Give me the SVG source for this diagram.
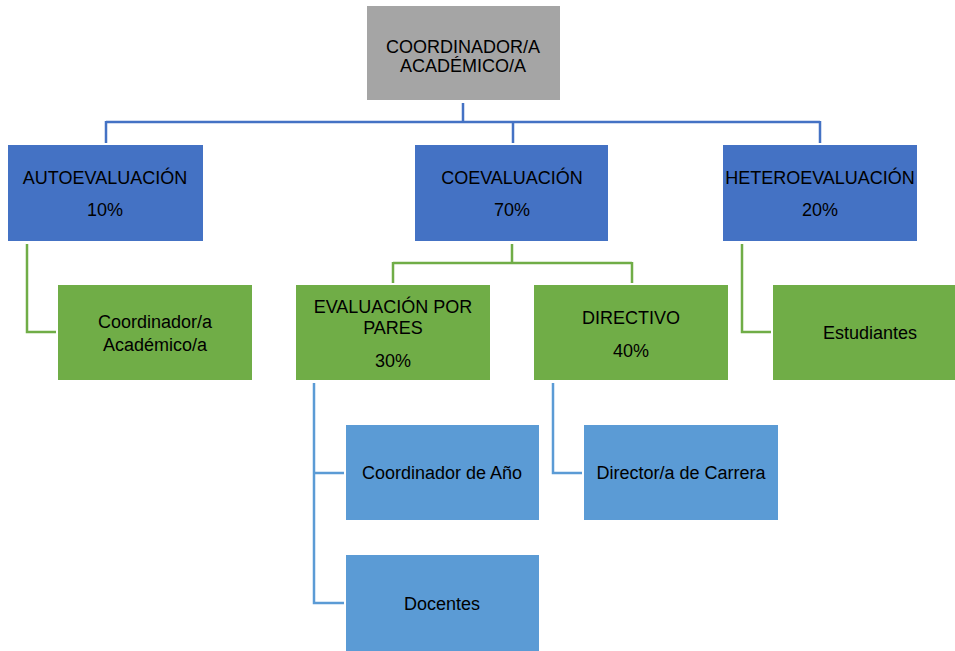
<svg xmlns="http://www.w3.org/2000/svg" width="955" height="651" viewBox="0 0 955 651">
<style>
.t{font-family:"Liberation Sans",Arial,sans-serif;font-size:18px;fill:#000;text-anchor:middle}
.gray{fill:#A5A5A5}
.blue{fill:#4472C4}
.green{fill:#70AD47}
.lblue{fill:#5B9BD5}
.c{fill:none;stroke-width:2.5}
.cb{stroke:#4472C4}
.cg{stroke:#70AD47}
.cl{stroke:#5B9BD5}
</style>
<rect width="955" height="651" fill="#fff"/>
<g id="connectors">
<path class="c cb" d="M463,103 V122 M106,122 H820 M106,121 V143 M513,121 V143 M820,121 V143"/>
<path class="c cg" d="M27,244 V332 H56"/>
<path class="c cg" d="M742,244 V332 H771"/>
<path class="c cg" d="M512,244 V263 M393,263 H632 M393,262 V283 M632,262 V283"/>
<path class="c cl" d="M314,383 V603 H344 M314,473 H344"/>
<path class="c cl" d="M553,383 V473 H582"/>
</g>
<g id="coordinador">
<rect class="gray" x="367" y="6" width="193" height="94"/>
<text class="t" x="463" y="53">COORDINADOR/A</text>
<text class="t" x="463" y="72">ACADÉMICO/A</text>
</g>
<g id="autoevaluacion">
<rect class="blue" x="8" y="145" width="195" height="96"/>
<text class="t" x="105" y="184">AUTOEVALUACIÓN</text>
<text class="t" x="105" y="216">10%</text>
</g>
<g id="coevaluacion">
<rect class="blue" x="415" y="145" width="193" height="96"/>
<text class="t" x="512" y="184">COEVALUACIÓN</text>
<text class="t" x="512" y="216">70%</text>
</g>
<g id="heteroevaluacion">
<rect class="blue" x="723" y="145" width="194" height="96"/>
<text class="t" x="820" y="184">HETEROEVALUACIÓN</text>
<text class="t" x="820" y="216">20%</text>
</g>
<g id="coord-academico">
<rect class="green" x="58" y="285" width="194" height="95"/>
<text class="t" x="155" y="328">Coordinador/a</text>
<text class="t" x="155" y="351">Académico/a</text>
</g>
<g id="pares">
<rect class="green" x="296" y="285" width="194" height="95"/>
<text class="t" x="393" y="313">EVALUACIÓN POR</text>
<text class="t" x="393" y="334">PARES</text>
<text class="t" x="393" y="367">30%</text>
</g>
<g id="directivo">
<rect class="green" x="534" y="285" width="194" height="95"/>
<text class="t" x="631" y="324">DIRECTIVO</text>
<text class="t" x="631" y="357">40%</text>
</g>
<g id="estudiantes">
<rect class="green" x="773" y="285" width="182" height="95"/>
<text class="t" x="870" y="339">Estudiantes</text>
</g>
<g id="coord-anio">
<rect class="lblue" x="346" y="425" width="193" height="95"/>
<text class="t" x="442" y="479">Coordinador de Año</text>
</g>
<g id="director-carrera">
<rect class="lblue" x="584" y="425" width="194" height="95"/>
<text class="t" x="681" y="479">Director/a de Carrera</text>
</g>
<g id="docentes">
<rect class="lblue" x="346" y="555" width="193" height="96"/>
<text class="t" x="442" y="610">Docentes</text>
</g>
</svg>
